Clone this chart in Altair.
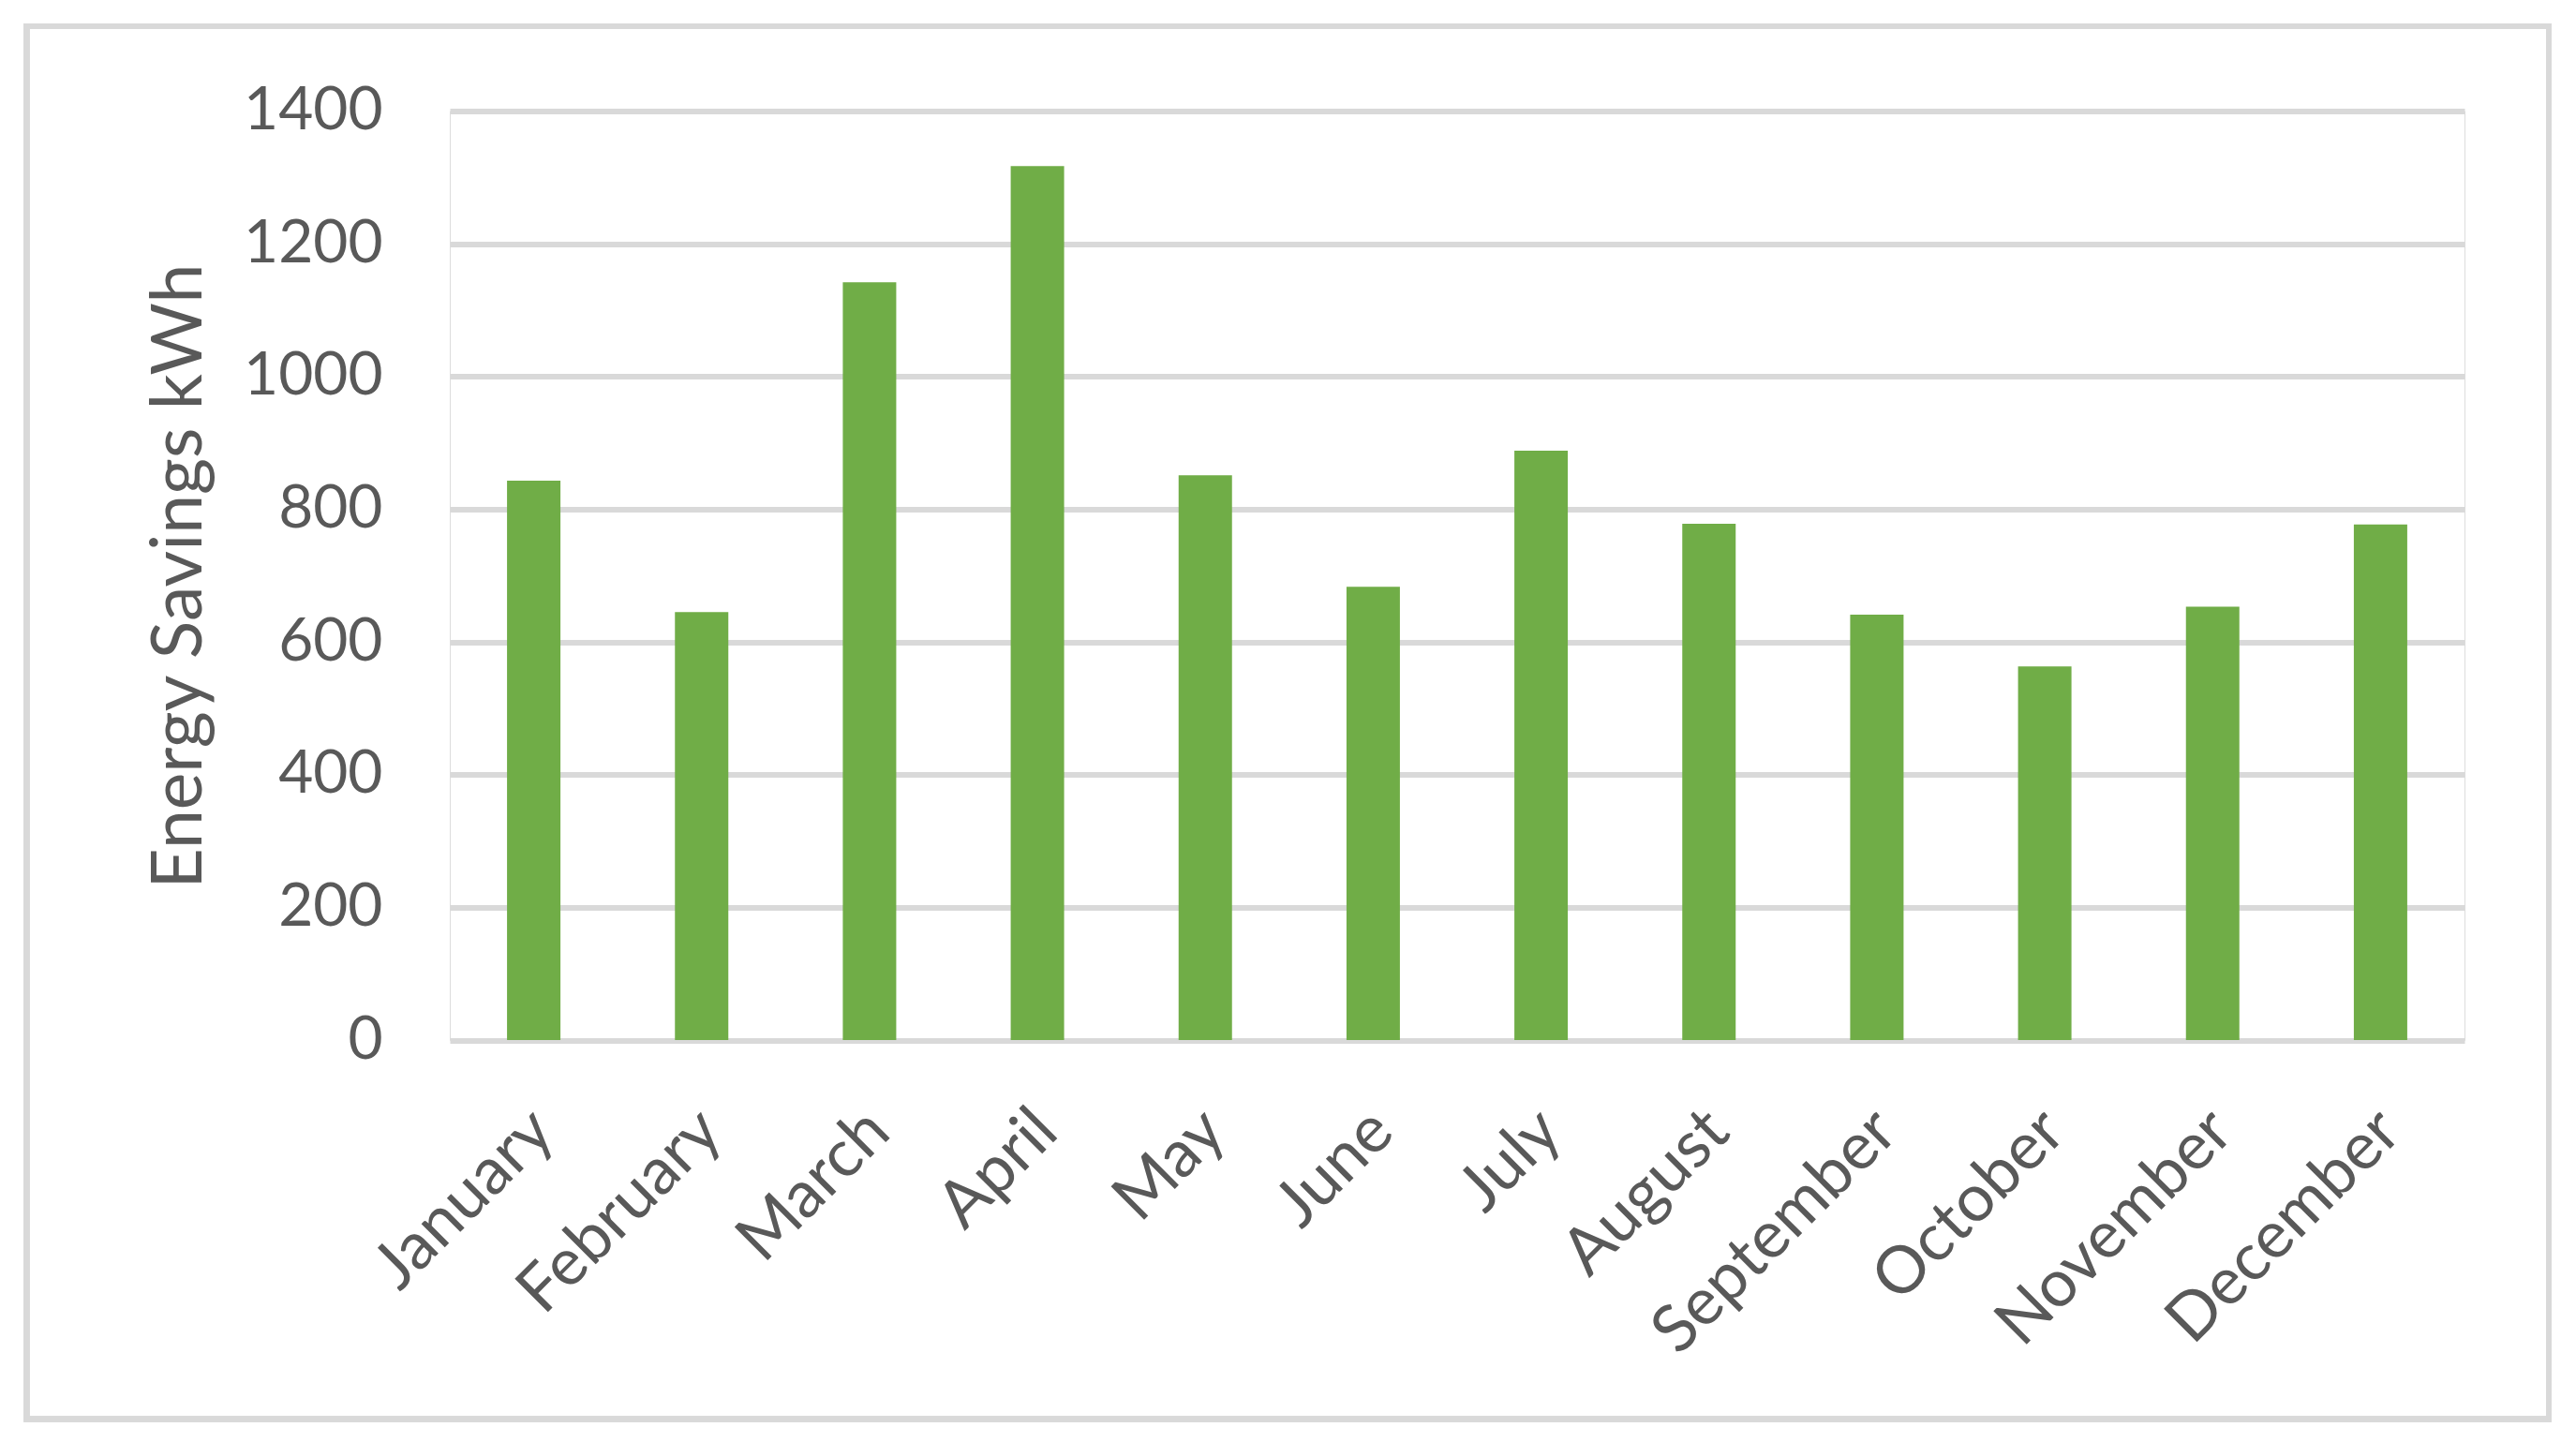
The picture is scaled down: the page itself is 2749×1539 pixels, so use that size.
import altair as alt
import pandas as pd

months = ["January", "February", "March", "April", "May", "June", "July",
          "August", "September", "October", "November", "December"]
savings = [843, 645, 1142, 1317, 851, 683, 888, 778, 641, 563, 653, 777]
y_ticks = [0, 200, 400, 600, 800, 1000, 1200, 1400]

df = pd.DataFrame({"Month": months, "Savings": savings})

FONT = "Lato"
GRAY = "#595959"
GRID = "#D9D9D9"

bars = alt.Chart(df).mark_bar(color="#70AD47", size=57).encode(
    x=alt.X("Month:N", sort=months,
            scale=alt.Scale(paddingInner=0.68, paddingOuter=0.34),
            axis=alt.Axis(title=None, labelAngle=-45, labelAlign="right",
                          labelBaseline="top", labelPadding=62, labelLimit=0,
                          labelOffset=-14,
                          labelFontSize=70, labelFont=FONT, labelColor=GRAY,
                          ticks=False, domain=False, grid=False)),
    y=alt.Y("Savings:Q", scale=alt.Scale(domain=[0, 1400], nice=False),
            axis=alt.Axis(title="Energy Savings kWh", values=y_ticks, format="d",
                          labelFontSize=64, labelFont=FONT, labelColor=GRAY,
                          labelPadding=72, ticks=False, domain=False,
                          grid=True, gridColor=GRID, gridWidth=6,
                          titleFont=FONT, titleFontSize=75, titleColor=GRAY,
                          titleFontWeight="normal", titleAngle=-90,
                          titleAlign="center", titleBaseline="alphabetic",
                          titleX=-266, titleY=496)),
)

frame = alt.Chart(df).mark_rect(fill=None, stroke=GRID, strokeWidth=6, clip=False).encode(
    x=alt.value(-451.5), x2=alt.value(2240), y=alt.value(-90.5), y2=alt.value(1396)
)

chart = alt.layer(frame, bars).properties(
    width=2150, height=991.5,
    autosize=alt.AutoSizeParams(type="none"),
    padding={"left": 472, "top": 110.5, "right": 110, "bottom": 420},
).configure_view(stroke=None).configure(background="white")

chart.save("out.html", embed_options={"renderer": "svg", "actions": False})
